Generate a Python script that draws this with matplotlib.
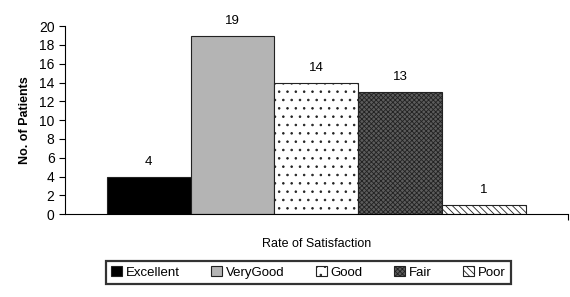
import numpy as np
import matplotlib.pyplot as plt

plt.rcParams['font.family'] = ['Liberation Sans', 'DejaVu Sans']
plt.rcParams['hatch.linewidth'] = 0.6

categories = ['Excellent', 'VeryGood', 'Good', 'Fair', 'Poor']
patients = [4, 19, 14, 13, 1]
colors = ['#000000', '#b4b4b4', '#ffffff', '#5c5c5c', '#ffffff']
hatches = [None, None, '..', 'xxxxxxx', '\\\\\\\\\\']

fig = plt.figure(figsize=(5.7, 2.97), dpi=100)
ax = fig.add_axes([0.114, 0.279, 0.882, 0.633])

x = np.arange(len(categories))
for i in range(len(categories)):
    ax.bar(x[i], patients[i], width=1.0, color=colors[i], edgecolor='#222222',
           linewidth=0.8, hatch=hatches[i], label=categories[i])
    ax.text(x[i], patients[i] + 0.9, str(patients[i]), ha='center', va='bottom',
            fontsize=9.5)

ax.set_xlim(-1, 5)
ax.set_ylim(0, 20)
ax.set_yticks(range(0, 21, 2))
ax.set_xticks([5])
ax.set_xticklabels([''])
ax.tick_params(axis='y', labelsize=10, length=4, width=0.8)
ax.tick_params(axis='x', length=4, width=0.8)
ax.spines['top'].set_visible(False)
ax.spines['right'].set_visible(False)
ax.set_ylabel('No. of Patients', fontsize=9, fontweight='bold', labelpad=6)
ax.set_xlabel('Rate of Satisfaction', fontsize=9, labelpad=10)

leg = fig.legend(loc='center', bbox_to_anchor=(0.541, 0.082), ncol=5, fontsize=9.5,
                 frameon=True, fancybox=False, handlelength=0.8, handleheight=0.8,
                 handletextpad=0.3, columnspacing=2.4, borderpad=0.4,
                 borderaxespad=0)
leg.get_frame().set_edgecolor('black')
leg.get_frame().set_linewidth(1.6)

fig.savefig('out.png', dpi=100)
